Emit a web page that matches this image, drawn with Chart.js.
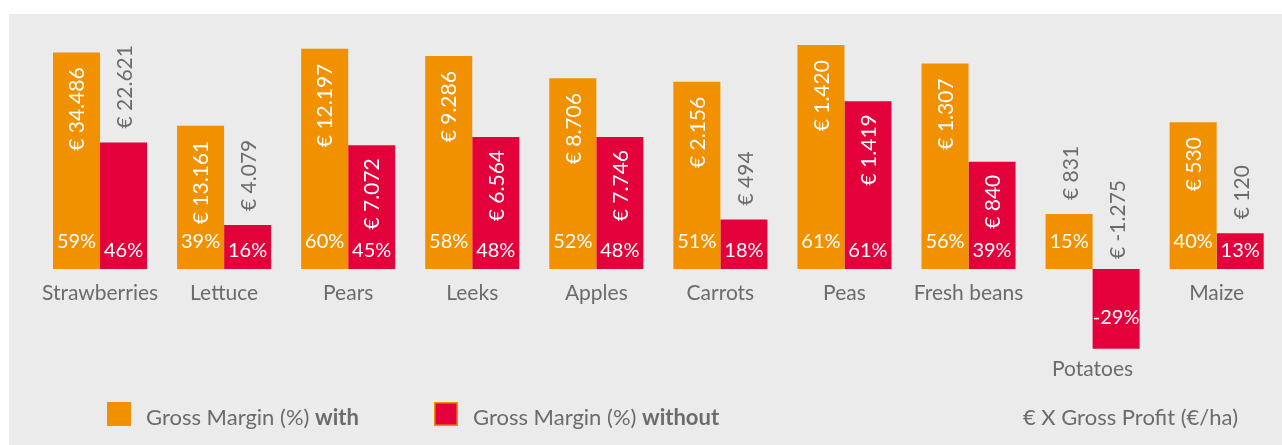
<!DOCTYPE html>
<html>
<head>
<meta charset="utf-8">
<script src="https://cdn.jsdelivr.net/npm/chart.js@4/dist/chart.umd.min.js"></script>
<style>
  html, body { margin: 0; padding: 0; background: #ffffff; overflow: hidden; }
  #wrap { position: relative; width: 1282px; height: 445px; }
  #panel { position: absolute; left: 9px; top: 14px; right: 0; bottom: 0; background: #ebebeb; }
  #c { position: absolute; left: 0; top: 0; }
</style>
</head>
<body>
<div id="wrap">
  <div id="panel"></div>
  <canvas id="c" width="1282" height="445"></canvas>
</div>
<script>
// ---- data ----
const categories = ['Strawberries', 'Lettuce', 'Pears', 'Leeks', 'Apples', 'Carrots', 'Peas', 'Fresh beans', 'Potatoes', 'Maize'];
const marginWith = [59, 39, 60, 58, 52, 51, 61, 56, 15, 40];
const marginWithout = [46, 16, 45, 48, 48, 18, 61, 39, -29, 13];
const profitWith = [34486, 13161, 12197, 9286, 8706, 2156, 1420, 1307, 831, 530];
const profitWithout = [22621, 4079, 7072, 6564, 7746, 494, 1419, 840, -1275, 120];
const seriesNames = ['Gross Margin (%) with', 'Gross Margin (%) without'];
const profitNote = '€ X Gross Profit (€/ha)';

// ---- styles ----
const ORANGE = '#f29100';
const RED = '#e4003b';
const GREY = '#6b6b6b';
const FONT = 'Lato, "Open Sans", sans-serif';
// euro labels drawn above the bar (outside) rather than inside
const outsideLabels = [[8], [0, 1, 5, 8, 9]];
const yMin = -30, yMax = 68;
const redRatio = 3.67 / 2.75; // the "without" bars are drawn on their own, compressed scale

function fmtEuro(v) {
  const s = Math.abs(v).toString().replace(/\B(?=(\d{3})+(?!\d))/g, '.');
  return '€ ' + (v < 0 ? '-' : '') + s;
}

const labelPlugin = {
  id: 'labels',
  afterDatasetsDraw(chart) {
    const ctx = chart.ctx;
    const profits = [profitWith, profitWithout];
    const margins = [marginWith, marginWithout];
    ctx.save();
    for (let d = 0; d < 2; d++) {
      const meta = chart.getDatasetMeta(d);
      meta.data.forEach((el, i) => {
        const base = el.base, top = el.y;
        const v = margins[d][i];
        // percentage label
        ctx.fillStyle = '#ffffff';
        ctx.font = '400 20px ' + FONT;
        ctx.textAlign = 'center';
        ctx.textBaseline = 'middle';
        let py;
        if (v < 0) py = top - 31;
        else py = d === 0 ? base - 27 : base - 18;
        ctx.fillText(v + '%', el.x, py);
        // euro label, rotated
        const outside = outsideLabels[d].includes(i);
        const txt = fmtEuro(profits[d][i]);
        ctx.save();
        ctx.font = '400 21px ' + FONT;
        ctx.textBaseline = 'middle';
        if (outside) {
          ctx.fillStyle = GREY;
          const anchor = v < 0 ? base - 10 : top - 14;
          ctx.translate(el.x + 2, anchor);
          ctx.rotate(-Math.PI / 2);
          ctx.textAlign = 'left';
        } else {
          ctx.fillStyle = '#ffffff';
          const gap = d === 0 ? 15 : 13;
          ctx.translate(el.x + 1, top + gap);
          ctx.rotate(-Math.PI / 2);
          ctx.textAlign = 'right';
        }
        ctx.fillText(txt, 0, 0);
        ctx.restore();
      });
    }
    // category labels
    const m0 = chart.getDatasetMeta(0), m1 = chart.getDatasetMeta(1);
    const xs = chart.scales.x;
    ctx.fillStyle = GREY;
    ctx.font = '400 21px ' + FONT;
    ctx.textAlign = 'center';
    ctx.textBaseline = 'alphabetic';
    categories.forEach((c, i) => {
      const base = m0.data[i].base;
      const lowest = Math.max(m0.data[i].y, m1.data[i].y, base);
      const y = lowest > base + 1 ? lowest + 27.5 : base + 31;
      ctx.fillText(c, xs.getPixelForValue(i), y);
    });
    // legend
    const legendX = [107, 434];
    const colors = [ORANGE, RED];
    for (let d = 0; d < 2; d++) {
      const x = legendX[d];
      ctx.fillStyle = colors[d];
      ctx.fillRect(x, 402, 24, 24);
      if (d === 1) {
        ctx.strokeStyle = ORANGE;
        ctx.lineWidth = 1.5;
        ctx.strokeRect(x + 0.75, 402.75, 22.5, 22.5);
      }
      const name = seriesNames[d];
      const cut = name.lastIndexOf(' ') + 1;
      const normal = name.slice(0, cut), bold = name.slice(cut);
      ctx.textAlign = 'left';
      ctx.fillStyle = GREY;
      ctx.font = '400 22px ' + FONT;
      ctx.fillText(normal, x + 39, 425);
      const w = ctx.measureText(normal).width;
      ctx.font = '700 22px ' + FONT;
      ctx.fillText(bold, x + 39 + w, 425);
    }
    ctx.font = '400 22px ' + FONT;
    ctx.textAlign = 'right';
    ctx.fillText(profitNote, 1238, 425);
    ctx.restore();
  }
};

new Chart(document.getElementById('c'), {
  type: 'bar',
  data: {
    labels: categories,
    datasets: [
      { label: seriesNames[0], data: marginWith, backgroundColor: ORANGE, yAxisID: 'y', borderWidth: 0 },
      { label: seriesNames[1], data: marginWithout, backgroundColor: RED, yAxisID: 'y2', borderWidth: 0 }
    ]
  },
  options: {
    responsive: false,
    animation: false,
    devicePixelRatio: 1,
    layout: { padding: { left: 38, right: 3.3, top: 19.4, bottom: 65.9 } },
    datasets: { bar: { categoryPercentage: 0.758, barPercentage: 1.0 } },
    scales: {
      x: { display: false },
      y: { display: false, min: yMin, max: yMax },
      y2: { display: false, min: yMin * redRatio, max: yMax * redRatio }
    },
    plugins: { legend: { display: false }, tooltip: { enabled: false } }
  },
  plugins: [labelPlugin]
});
</script>
</body>
</html>
